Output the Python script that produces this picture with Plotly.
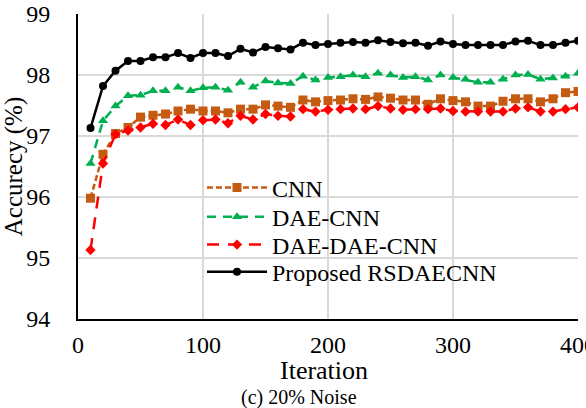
import plotly.graph_objects as go

iterations = list(range(10, 401, 10))

cnn = [95.98, 96.70, 97.04, 97.14, 97.31, 97.34, 97.36, 97.41, 97.44, 97.41,
       97.41, 97.38, 97.44, 97.44, 97.51, 97.49, 97.47, 97.59, 97.56, 97.58,
       97.59, 97.61, 97.60, 97.64, 97.62, 97.59, 97.59, 97.52, 97.61, 97.58,
       97.56, 97.49, 97.49, 97.57, 97.61, 97.61, 97.56, 97.61, 97.71, 97.73]

dae_cnn = [96.55, 97.25, 97.49, 97.66, 97.67, 97.74, 97.74, 97.80, 97.74, 97.79,
           97.80, 97.75, 97.88, 97.80, 97.90, 97.87, 97.86, 97.98, 97.92, 97.96,
           97.97, 98.00, 97.97, 98.03, 98.00, 97.96, 97.97, 97.92, 98.00, 97.96,
           97.93, 97.88, 97.88, 97.93, 98.00, 98.01, 97.93, 97.95, 97.98, 98.03]

dae_dae_cnn = [95.13, 96.55, 97.03, 97.09, 97.14, 97.20, 97.18, 97.27, 97.18, 97.26,
               97.27, 97.21, 97.33, 97.27, 97.36, 97.33, 97.32, 97.44, 97.40, 97.43,
               97.44, 97.45, 97.44, 97.49, 97.45, 97.43, 97.44, 97.44, 97.45, 97.41,
               97.40, 97.40, 97.40, 97.40, 97.45, 97.47, 97.40, 97.40, 97.44, 97.47]

rsdaecnn = [97.13, 97.82, 98.07, 98.23, 98.23, 98.29, 98.29, 98.36, 98.28, 98.36,
            98.36, 98.31, 98.43, 98.37, 98.46, 98.44, 98.42, 98.53, 98.49, 98.51,
            98.53, 98.54, 98.53, 98.57, 98.54, 98.52, 98.53, 98.48, 98.55, 98.51,
            98.49, 98.49, 98.49, 98.49, 98.55, 98.56, 98.49, 98.49, 98.53, 98.56]

series_names = ["CNN", "DAE-CNN", "DAE-DAE-CNN", "Proposed RSDAECNN"]
x_ticks = [0, 100, 200, 300, 400]
y_ticks = [94, 95, 96, 97, 98, 99]

FONT = "Liberation Serif, Times New Roman, serif"

styles = [
    dict(color="#C55A11", dash="6px,3px", symbol="square", size=9),
    dict(color="#00B050", dash="9px,7px", symbol="triangle-up", size=9),
    dict(color="#FF0000", dash="12px,9px", symbol="diamond", size=8),
    dict(color="black", dash="solid", symbol="circle", size=8),
]
values = [cnn, dae_cnn, dae_dae_cnn, rsdaecnn]
legend_ids = ["legend", "legend2", "legend3", "legend4"]
legend_y = [0.4295, 0.334, 0.2426, 0.154]

fig = go.Figure()
for name, vals, st, lid in zip(series_names, values, styles, legend_ids):
    fig.add_trace(go.Scatter(
        x=iterations, y=vals, name=name, mode="lines+markers", legend=lid,
        line=dict(color=st["color"], width=2.5, dash=st["dash"]),
        marker=dict(symbol=st["symbol"], size=st["size"], color=st["color"])))

layout_legends = {}
for lid, ly in zip(legend_ids, legend_y):
    layout_legends[lid] = dict(x=0.248, y=ly, xanchor="left", yanchor="middle",
                               bgcolor="rgba(0,0,0,0)",
                               font=dict(family=FONT, size=24, color="black"),
                               itemwidth=60)

fig.update_layout(
    width=586, height=408,
    margin=dict(l=78, r=8, t=14, b=89),
    paper_bgcolor="white", plot_bgcolor="white",
    font=dict(family=FONT, size=24, color="black"),
    showlegend=True,
    annotations=[
        dict(text="Iteration", x=0.491, y=-0.168, xref="paper", yref="paper",
             xanchor="center", yanchor="middle", showarrow=False,
             font=dict(family=FONT, size=26)),
        dict(text="(c) 20% Noise", x=0.442, y=-0.259, xref="paper", yref="paper",
             xanchor="center", yanchor="middle", showarrow=False,
             font=dict(family=FONT, size=20)),
    ],
    **layout_legends,
)
fig.update_xaxes(range=[0, 400], tickvals=x_ticks, showgrid=True, gridcolor="#d9d9d9",
                 gridwidth=1.5, showline=True, linecolor="black", linewidth=2,
                 zeroline=False, ticks="", ticklabelstandoff=3, automargin=False,
                 ticklabeloverflow="allow", tickfont=dict(family=FONT, size=24))
fig.update_yaxes(range=[94, 99], tickvals=y_ticks, showgrid=True, gridcolor="#d9d9d9",
                 gridwidth=1.5, showline=True, linecolor="black", linewidth=2,
                 zeroline=False, ticks="", ticklabelstandoff=21, automargin=False,
                 tickfont=dict(family=FONT, size=24),
                 title=dict(text="Accurecy (%)", font=dict(family=FONT, size=25), standoff=4))

fig.write_html("out.html")
